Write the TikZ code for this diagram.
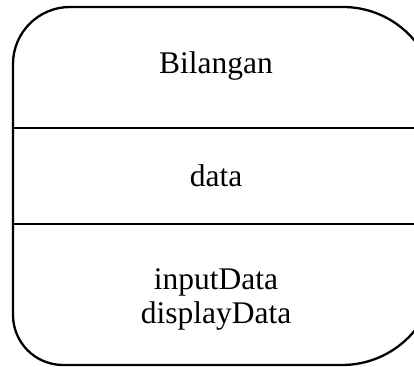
\documentclass[tikz,border=0pt]{standalone}
\usepackage{fontspec}
\setmainfont{Liberation Serif}
\begin{document}
\begin{tikzpicture}[x=1pt,y=1pt,
  outline/.style={draw=black,line width=2.3pt},
  label/.style={font=\fontsize{31.5}{34}\selectfont,align=center,inner sep=0pt}]
\useasboundingbox (0,0) rectangle (414,366);
\clip (0,0) rectangle (414,366);
% class box with rounded corners, its right side running past the frame
\draw[outline] (13,302) arc[start angle=180,end angle=90,radius=57]
  -- (343,359) arc[start angle=90,end angle=0,radius=93]
  -- (436,95) arc[start angle=0,end angle=-90,radius=94]
  -- (63,1) arc[start angle=270,end angle=180,radius=50] -- cycle;
% compartment separators
\coordinate (s1l) at (13,238); \coordinate (s1r) at (436,238);
\coordinate (s2l) at (13,142); \coordinate (s2r) at (436,142);
\draw[outline] (s1l) -- (s1r);
\draw[outline] (s2l) -- (s2r);
% compartment texts
\node[label] (name) at (216,300) {Bilangan};
\node[label] (attr) at (216,190) {data};
\node[label] (ops) at (216,67) {inputData\\displayData};
\end{tikzpicture}
\end{document}
